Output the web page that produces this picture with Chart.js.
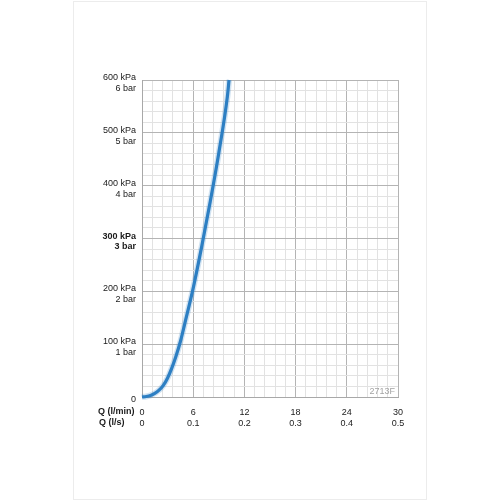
<!DOCTYPE html>
<html>
<head>
<meta charset="utf-8">
<script src="https://cdn.jsdelivr.net/npm/chart.js@4/dist/chart.umd.min.js"></script>
<style>
  html, body { margin: 0; padding: 0; background: #fff; }
  #wrap { position: relative; width: 500px; height: 500px; }
  #page { position: absolute; left: 73px; top: 1px; width: 352px; height: 497px; border: 1px solid #ececec; pointer-events: none; }
  canvas { position: absolute; left: 0; top: 0; }
</style>
</head>
<body>
<div id="wrap">
  <div id="page"></div>
  <canvas id="c" width="500" height="500"></canvas>
</div>
<script>
// Flow (l/min) and pressure loss (kPa)
const flowLpm = [0, 0.5, 1, 1.5, 2, 2.5, 3, 3.5, 4, 4.5, 5, 6, 7, 8, 9, 10, 10.2];
const pressureKpa = [0, 1, 3, 7, 13, 22, 36, 55, 78, 105, 138, 206, 285, 370, 462, 568, 600];

// Axis tick labels
const xTickValues = [0, 6, 12, 18, 24, 30];
const xLpmLabels = ['0', '6', '12', '18', '24', '30'];
const xLpsLabels = ['0', '0.1', '0.2', '0.3', '0.4', '0.5'];
const yTickValues = [0, 100, 200, 300, 400, 500, 600];
const yKpaLabels = ['0', '100 kPa', '200 kPa', '300 kPa', '400 kPa', '500 kPa', '600 kPa'];
const yBarLabels = ['', '1 bar', '2 bar', '3 bar', '4 bar', '5 bar', '6 bar'];
const xAxisNames = ['Q (l/min)', 'Q (l/s)'];
const refCode = '2713F';

const FONT = '"Liberation Sans", Arial, Helvetica, sans-serif';
const near = (v, t) => Math.abs(v - t) < 1e-6;
const xIdx = v => xTickValues.findIndex(t => near(v, t));
const yIdx = v => yTickValues.findIndex(t => near(v, t));

const points = flowLpm.map((q, i) => ({ x: q, y: pressureKpa[i] }));

const extras = {
  id: 'extras',
  afterDraw(chart) {
    const ctx = chart.ctx;
    const xs = chart.scales.x, ys = chart.scales.y;
    ctx.save();
    ctx.fillStyle = '#1a1a1a';
    ctx.font = 'bold 9px ' + FONT;
    ctx.textAlign = 'left';
    ctx.textBaseline = 'middle';
    ctx.fillText(xAxisNames[0], 98, 412);
    ctx.fillText(xAxisNames[1], 99, 423);
    ctx.fillStyle = '#a4a4a4';
    ctx.font = '9px ' + FONT;
    ctx.textAlign = 'right';
    ctx.fillText(refCode, xs.right - 3, ys.bottom - 5);
    ctx.restore();
  }
};

new Chart(document.getElementById('c'), {
  type: 'line',
  data: {
    datasets: [{
      data: points,
      borderColor: 'rgba(46,127,195,0.22)',
      borderWidth: 6,
      pointRadius: 0,
      fill: false,
      cubicInterpolationMode: 'monotone',
      clip: 3
    }, {
      data: points,
      borderColor: '#2e7fc3',
      borderWidth: 3.2,
      pointRadius: 0,
      fill: false,
      cubicInterpolationMode: 'monotone',
      clip: 2
    }]
  },
  options: {
    responsive: false,
    animation: false,
    events: [],
    layout: { padding: { left: 80, right: 102, top: 80, bottom: 70 } },
    plugins: { legend: { display: false }, tooltip: { enabled: false } },
    scales: {
      x: {
        type: 'linear',
        min: 0, max: 30,
        afterFit(s) { s.height = 33; },
        border: { display: true, color: '#a8a8a8', width: 1 },
        grid: {
          drawTicks: false,
          color: c => (xIdx(c.tick.value) >= 0 ? '#b4b4b4' : '#e2e2e2'),
          lineWidth: 1
        },
        ticks: {
          stepSize: 1.2,
          autoSkip: false,
          maxRotation: 0,
          padding: 10,
          color: '#1a1a1a',
          font: { family: FONT, size: 9, lineHeight: 1.25 },
          callback(v) {
            const i = xIdx(v);
            return i >= 0 ? [xLpmLabels[i], xLpsLabels[i]] : '';
          }
        }
      },
      y: {
        type: 'linear',
        min: 0, max: 600,
        afterFit(s) { s.width = 62; },
        border: { display: true, color: '#a8a8a8', width: 1 },
        grid: {
          drawTicks: false,
          color: c => (yIdx(c.tick.value) >= 0 ? '#b4b4b4' : '#e2e2e2'),
          lineWidth: 1
        },
        ticks: {
          stepSize: 20,
          autoSkip: false,
          padding: 6,
          labelOffset: 3,
          color: '#1a1a1a',
          font: c => ({ family: FONT, size: 9, lineHeight: 1.2,
                        weight: (c.tick && near(c.tick.value, 300)) ? 'bold' : 'normal' }),
          callback(v) {
            const i = yIdx(v);
            if (i < 0) return '';
            return yBarLabels[i] ? [yKpaLabels[i], yBarLabels[i]] : yKpaLabels[i];
          }
        }
      }
    }
  },
  plugins: [extras]
});
</script>
</body>
</html>
